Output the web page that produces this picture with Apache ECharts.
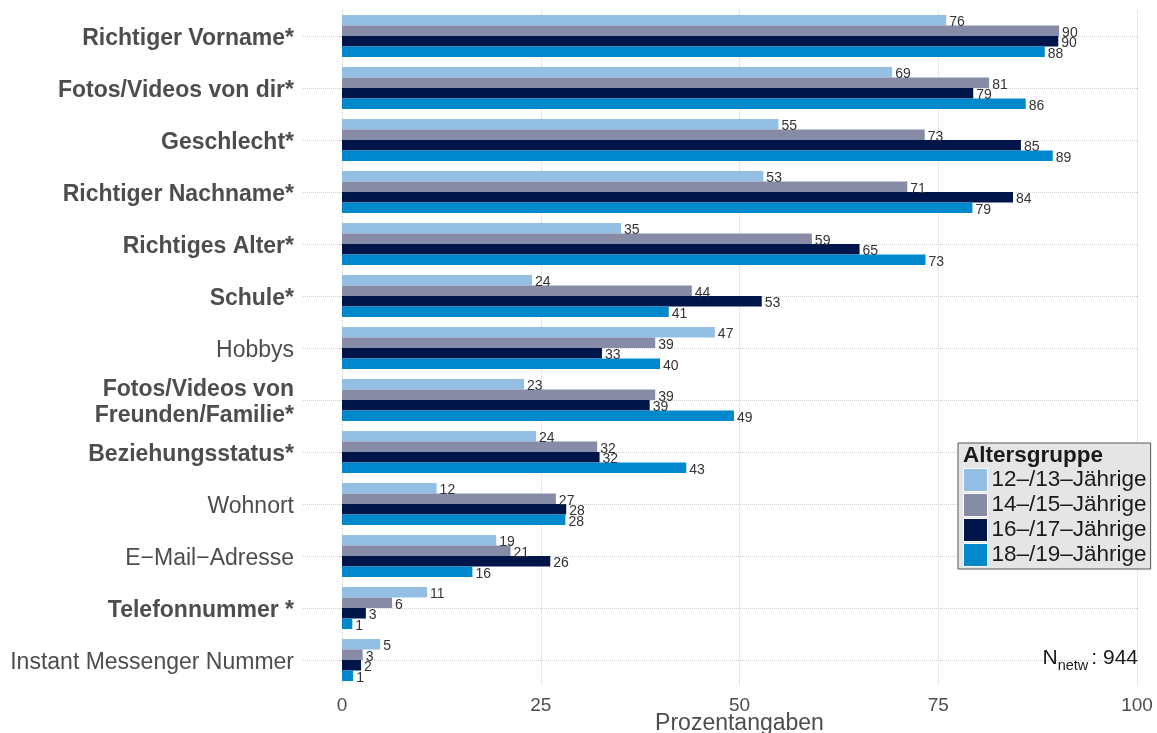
<!DOCTYPE html>
<html>
<head>
<meta charset="utf-8">
<style>
  html, body { margin: 0; padding: 0; background: #fff; }
  #main { width: 1157px; height: 733px; }
</style>
</head>
<body>
<div id="main"></div>
<script src="https://cdn.jsdelivr.net/npm/echarts@6/dist/echarts.min.js"></script>
<script>
// Kategorien von oben nach unten
var categories = [
    'Richtiger Vorname*', 'Fotos/Videos von dir*', 'Geschlecht*', 'Richtiger Nachname*',
    'Richtiges Alter*', 'Schule*', 'Hobbys', 'Fotos/Videos von\nFreunden/Familie*',
    'Beziehungsstatus*', 'Wohnort', 'E\u2212Mail\u2212Adresse', 'Telefonnummer *',
    'Instant Messenger Nummer'
];
// nicht fett gesetzte Kategorien (ohne Sternchen)
var plainCats = ['Hobbys', 'Wohnort', 'E\u2212Mail\u2212Adresse', 'Instant Messenger Nummer'];

var groups = ['12\u2013/13\u2013Jährige', '14\u2013/15\u2013Jährige', '16\u2013/17\u2013Jährige', '18\u2013/19\u2013Jährige'];
var colors = ['#93BFE5', '#878BA5', '#00154A', '#0088CD'];

// Prozentwerte (Balkenlänge), Beschriftung gerundet
var s1213 = [76.0, 69.2, 54.9, 53.0, 35.1, 23.9, 46.9, 22.9, 24.4, 11.9, 19.4, 10.7, 4.8];
var s1415 = [90.2, 81.4, 73.3, 71.1, 59.1, 44.0, 39.4, 39.4, 32.1, 26.9, 21.2, 6.3, 2.6];
var s1617 = [90.1, 79.4, 85.4, 84.4, 65.1, 52.8, 32.7, 38.7, 32.4, 28.2, 26.2, 3.0, 2.4];
var s1819 = [88.4, 86.0, 89.4, 79.3, 73.4, 41.1, 40.0, 49.3, 43.3, 28.1, 16.4, 1.3, 1.4];
var seriesData = [s1213, s1415, s1617, s1819];

var xTicks = [0, 25, 50, 75, 100];
var nNetw = 944;

var fontFam = '"Liberation Sans", Arial, sans-serif';

var myChart = echarts.init(document.getElementById('main'));

var series = groups.map(function (g, i) {
    return {
        name: g,
        type: 'bar',
        data: seriesData[i],
        barGap: '0%',
        barCategoryGap: '19%',
        itemStyle: { color: colors[i] },
        label: {
            show: true,
            position: 'right',
            distance: 3,
            offset: [0, 2],
            fontFamily: fontFam,
            fontSize: 14,
            color: '#333',
            formatter: function (p) { return Math.round(p.value); }
        }
    };
});

var option = {
    animation: false,
    textStyle: { fontFamily: fontFam },
    grid: { left: 342, right: 20, top: 10, bottom: 47, containLabel: false, outerBoundsMode: 'none' },
    xAxis: {
        type: 'value',
        min: 0,
        max: 100,
        interval: 25,
        name: 'Prozentangaben',
        nameLocation: 'middle',
        nameGap: 26,
        nameMoveOverlap: false,
        nameTextStyle: { fontSize: 23, color: '#4d4d4d', fontFamily: fontFam },
        axisLine: { show: false },
        axisTick: { show: false },
        axisLabel: {
            fontSize: 19, color: '#4d4d4d', margin: 10, fontFamily: fontFam,
            formatter: function (v) { return xTicks.indexOf(v) >= 0 ? v : ''; }
        },
        splitLine: { show: true, lineStyle: { type: 'dotted', color: '#cfcfcf', width: 1 } }
    },
    yAxis: {
        type: 'category',
        inverse: true,
        data: categories,
        axisLine: { show: false },
        axisTick: {
            show: true, length: 40, alignWithLabel: true,
            lineStyle: { type: 'dotted', color: '#cfcfcf' }
        },
        splitLine: {
            show: true, alignWithLabel: true,
            lineStyle: { type: 'dotted', color: '#cfcfcf' }
        },
        axisLabel: {
            margin: 48,
            fontFamily: fontFam,
            formatter: function (v) {
                var st = plainCats.indexOf(v) >= 0 ? 'r' : 'b';
                return v.split('\n').map(function (l) { return '{' + st + '|' + l + '}'; }).join('\n');
            },
            rich: {
                b: { fontSize: 23, fontWeight: 'bold', color: '#4d4d4d', lineHeight: 26, padding: [6, 0, 0, 0], fontFamily: fontFam },
                r: { fontSize: 23, color: '#4d4d4d', lineHeight: 26, padding: [6, 0, 0, 0], fontFamily: fontFam }
            }
        }
    },
    legend: {
        data: groups,
        orient: 'vertical',
        left: 958,
        top: 443,
        padding: [25, 4, 2, 5],
        itemGap: 1,
        itemWidth: 24,
        itemHeight: 23,
        icon: 'rect',
        backgroundColor: '#e5e5e5',
        borderColor: '#555',
        borderWidth: 1,
        borderRadius: 0,
        itemStyle: { borderColor: '#fff', borderWidth: 1 },
        textStyle: { fontSize: 22.5, color: '#1a1a1a', fontFamily: fontFam, lineHeight: 23, padding: [0, 0, 0, -1] }
    },
    graphic: [
        {
            type: 'text',
            left: 963,
            top: 444,
            z: 100,
            style: {
                text: 'Altersgruppe',
                fontSize: 22.5,
                fontWeight: 'bold',
                fill: '#1a1a1a',
                fontFamily: fontFam
            }
        },
        {
            type: 'text',
            right: 19,
            top: 648,
            z: 100,
            style: {
                text: '{n|N}{s|netw}{n|: ' + nNetw + '}',
                rich: {
                    n: { fontSize: 21, fill: '#1a1a1a', fontFamily: fontFam, verticalAlign: 'bottom', padding: [0, 0, 4, 0] },
                    s: { fontSize: 14.5, fill: '#1a1a1a', fontFamily: fontFam, verticalAlign: 'bottom', padding: [0, 3, 0, 0] }
                }
            }
        }
    ],
    series: series
};

myChart.setOption(option);
</script>
</body>
</html>
